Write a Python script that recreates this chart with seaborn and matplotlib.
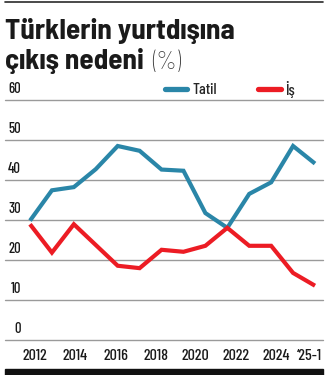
import matplotlib
matplotlib.use("Agg")
import matplotlib.pyplot as plt
import matplotlib.transforms as mtransforms
import seaborn as sns
import pandas as pd
from matplotlib.lines import Line2D
from matplotlib.patches import Rectangle
from matplotlib import font_manager as fm

# ---- data ----
periods = ["2012", "2013", "2014", "2015", "2016", "2017", "2018", "2019",
           "2020", "2021", "2022", "2023", "2024", "'25-1"]
tatil = [29.9, 37.5, 38.3, 42.8, 48.6, 47.4, 42.7, 42.4, 31.8, 28.1, 36.6, 39.5, 48.6, 44.2]
is_ = [29.0, 21.9, 29.0, 23.8, 18.6, 18.0, 22.6, 22.1, 23.6, 28.1, 23.6, 23.6, 16.8, 13.6]
series_names = ["Tatil", "İş"]
yticks = [0, 10, 20, 30, 40, 50, 60]
xtick_labels = ["2012", "2014", "2016", "2018", "2020", "2022", "2024", "‘25-1"]
title1 = "Türklerin yurtdışına"
title2 = "çıkış nedeni"
title_unit = "(%)"

BLUE = "#2a86a8"
RED = "#ec1c24"

sns.set_theme(style="white")
names = set(f.name for f in fm.fontManager.ttflist)
FONT = "Barlow Condensed" if "Barlow Condensed" in names else "DejaVu Sans"
TFONT = "Barlow Semi Condensed" if "Barlow Semi Condensed" in names else FONT
plt.rcParams["font.family"] = [FONT, "DejaVu Sans"]

W, H, DPI = 332, 375, 100
fig = plt.figure(figsize=(W / DPI, H / DPI), dpi=DPI)
fig.patch.set_facecolor("white")

def fx(px):
    return px / W

def fy(py):
    return 1 - py / H

# axes: x pixels 5..323, y pixels 340 (0) .. 100.5 (60)
ax = fig.add_axes([fx(5), fy(340), fx(323) - fx(5), (340 - 100.5) / H])

df = pd.DataFrame({
    "idx": list(range(len(periods))) * 2,
    "value": tatil + is_,
    "series": [series_names[0]] * len(periods) + [series_names[1]] * len(periods),
})
sns.lineplot(data=df, x="idx", y="value", hue="series",
             palette={series_names[0]: BLUE, series_names[1]: RED},
             linewidth=3.0, ax=ax, legend=False, zorder=3)
for l in ax.get_lines():
    l.set_solid_joinstyle("miter")
    l.set_solid_capstyle("butt")

scale = (315 - 30) / 13.0
ax.set_xlim((5 - 30) / scale, (323 - 30) / scale)
ax.set_ylim(0, 60)
for s in ax.spines.values():
    s.set_visible(False)
ax.set_yticks(yticks)
ax.yaxis.grid(True, color="#9a9a9a", linewidth=1.0)
for gl in ax.get_ygridlines():
    gl.set_clip_on(False)
ax.xaxis.grid(False)
ax.tick_params(axis="y", left=False, labelleft=False)
ax.set_xlabel("")
ax.set_ylabel("")

label_px = [35.3, 75.3, 115.5, 155.8, 195.8, 236.2, 276.2, 310.0]
ax.set_xticks([(p - 30) / scale for p in label_px])
ax.set_xticklabels(xtick_labels, fontsize=11.5, color="#1a1a1a", fontweight="medium")
ax.tick_params(axis="x", bottom=False, length=0, pad=6.5)

trans = mtransforms.blended_transform_factory(ax.transAxes, ax.transData)
for v in yticks:
    ax.annotate(str(v), xy=((21 - 5) / 318, v), xycoords=trans,
                xytext=(0, 3.0), textcoords="offset points",
                ha="right", va="bottom", fontsize=10.5, color="#1a1a1a",
                fontweight="medium")

# legend
handles = [Line2D([0], [0], color=BLUE, lw=3.8, solid_capstyle="round"),
           Line2D([0], [0], color=RED, lw=3.8, solid_capstyle="round")]
fig.legend(handles, series_names, loc="center left",
           bbox_to_anchor=(fx(165), fy(89)), bbox_transform=fig.transFigure,
           ncol=2, frameon=False, handlelength=1.4,
           handletextpad=0.3, columnspacing=2.6, borderpad=0, borderaxespad=0,
           prop={"family": [FONT, "DejaVu Sans"], "size": 11.5, "weight": "medium"})

# titles
renderer = fig.canvas.get_renderer()
t1 = fig.text(fx(5), fy(39.5), title1, fontsize=20, fontweight="bold",
              family=[TFONT, "DejaVu Sans"], color="#1a1a1a", ha="left", va="baseline")
w1 = t1.get_window_extent(renderer).width
t1.set_fontsize(20 * 230 / w1)
t2 = fig.text(fx(5), fy(69.3), title2, fontsize=t1.get_fontsize(), fontweight="bold",
              family=[TFONT, "DejaVu Sans"], color="#1a1a1a", ha="left", va="baseline")
e2 = t2.get_window_extent(renderer)
fig.text((e2.x1 + 8) / W, fy(69.3), title_unit, fontsize=t1.get_fontsize() * 0.88,
         fontweight="light", family=[FONT, "DejaVu Sans"], color="#333333",
         ha="left", va="baseline")

# top rule and bottom bar
fig.add_artist(Line2D([fx(5), fx(323)], [fy(1.5), fy(1.5)], color="#2a2a2a",
                      lw=1.2, transform=fig.transFigure))
fig.add_artist(Rectangle((fx(5), 0), fx(323) - fx(5), 6 / H, color="#111111",
                         transform=fig.transFigure))

fig.savefig("out.png", dpi=DPI, facecolor="white")
